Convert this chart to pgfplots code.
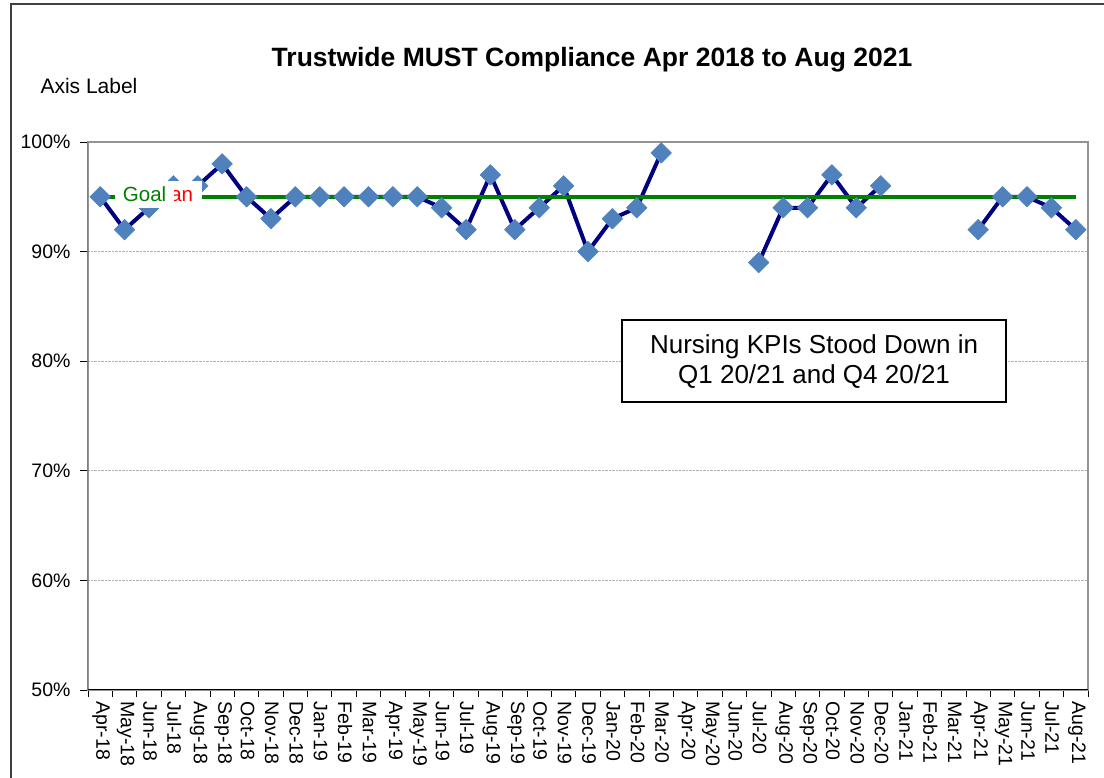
\documentclass[border=0pt]{standalone}
\usepackage{pgfplots}
\pgfplotsset{compat=1.18}
\usepackage{fontspec}
\setmainfont{Liberation Sans}
\definecolor{navyline}{HTML}{000080}
\definecolor{markblue}{HTML}{4F81BD}
\definecolor{goalgreen}{HTML}{008000}
\begin{document}
\begin{tikzpicture}[x=1pt,y=1pt]
\useasboundingbox (0,0) rectangle (1104,778);
\draw[line width=1.5pt, black!75] (11,0)--(11,774)--(1104,774);
\node[font=\fontsize{26.5}{30}\selectfont\bfseries] at (592,718) {Trustwide MUST Compliance Apr 2018 to Aug 2021};
\node[font=\fontsize{21}{25}\selectfont] at (89,692) {Axis Label};
\begin{axis}[
  at={(88pt,88pt)}, anchor=south west,
  scale only axis, width=1000pt, height=548pt,
  xmin=-0.5, xmax=40.5, ymin=50, ymax=100,
  xtick={0,...,40},
  xticklabels={Apr-18,May-18,Jun-18,Jul-18,Aug-18,Sep-18,Oct-18,Nov-18,Dec-18,Jan-19,Feb-19,Mar-19,Apr-19,May-19,Jun-19,Jul-19,Aug-19,Sep-19,Oct-19,Nov-19,Dec-19,Jan-20,Feb-20,Mar-20,Apr-20,May-20,Jun-20,Jul-20,Aug-20,Sep-20,Oct-20,Nov-20,Dec-20,Jan-21,Feb-21,Mar-21,Apr-21,May-21,Jun-21,Jul-21,Aug-21},
  minor xtick={-0.5,0.5,...,40.5},
  ytick={50,60,70,80,90,100},
  yticklabels={50\%,60\%,70\%,80\%,90\%,100\%},
  tick align=outside,
  major tick length=8pt, minor tick length=7pt,
  major x tick style={draw=none},
  minor x tick style={black, line width=0.8pt},
  major y tick style={black, line width=0.8pt},
  xtick pos=bottom, ytick pos=left,
  ticklabel style={font=\fontsize{19.5}{22}\selectfont},
  xticklabel style={rotate=-90, anchor=west, yshift=1pt},
  yticklabel style={xshift=-6pt},
  ymajorgrids,
  major grid style={densely dotted, gray!60, line width=0.6pt},
  axis line style={draw=gray!85, line width=1.8pt},
  unbounded coords=jump,
]
\addplot[navyline, line width=4pt, line join=round, mark=square*, mark size=7.3pt,
  mark options={fill=markblue, draw=markblue, rotate=45, line width=0.5pt, solid}]
coordinates {
(0,95) (1,92) (2,94) (3,96) (4,96) (5,98) (6,95) (7,93) (8,95) (9,95)
(10,95) (11,95) (12,95) (13,95) (14,94) (15,92) (16,97) (17,92) (18,94) (19,96)
(20,90) (21,93) (22,94) (23,99) (24,nan) (25,nan) (26,nan) (27,89) (28,94) (29,94)
(30,97) (31,94) (32,96) (33,nan) (34,nan) (35,nan) (36,92) (37,95) (38,95) (39,94)
(40,92)
};
\addplot[goalgreen, line width=4.5pt, no marks] coordinates {(0,95) (40,95)};
\draw[black, line width=1pt] (rel axis cs:0,0) -- (rel axis cs:0,1);
\draw[black, line width=1pt] (rel axis cs:0,0) -- (rel axis cs:1,0);
\end{axis}
\begin{axis}[
  at={(88pt,88pt)}, anchor=south west,
  scale only axis, width=1000pt, height=548pt,
  xmin=-0.5, xmax=40.5, ymin=50, ymax=100,
  hide axis,
]
\node[fill=white, text=red, inner xsep=9pt, inner ysep=6pt, font=\fontsize{20.5}{24}\selectfont] at (axis cs:2.76,95.2) {Mean};
\node[fill=white, text=goalgreen, inner xsep=8pt, inner ysep=6pt, font=\fontsize{20.5}{24}\selectfont] at (axis cs:1.82,95.2) {Goal};
\node[draw=black, line width=1.5pt, fill=white, minimum width=384pt, minimum height=82pt, align=center, font=\fontsize{26}{30}\selectfont] at (axis cs:29.27,80) {Nursing KPIs Stood Down in\\Q1 20/21 and Q4 20/21};
\end{axis}
\end{tikzpicture}
\end{document}
